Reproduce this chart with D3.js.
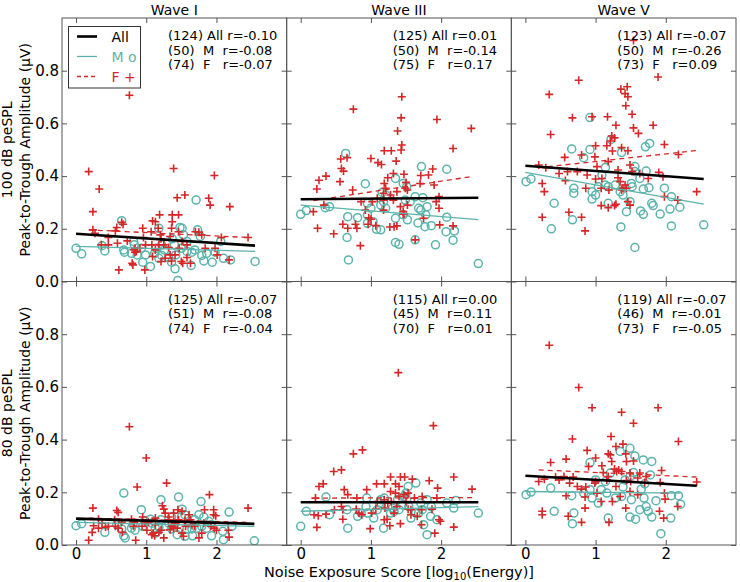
<!DOCTYPE html>
<html><head><meta charset="utf-8">
<script src="https://cdn.jsdelivr.net/npm/d3@7"></script>
<style>body{margin:0;background:#fff} text{font-family:"DejaVu Sans",sans-serif;}</style>
</head><body><svg id="c" width="740" height="582"></svg>
<script>
// ---- data ----
const waves = ["Wave I", "Wave III", "Wave V"];
const levels = ["100 dB peSPL", "80 dB peSPL"];
const xTicks = [0, 1, 2];
const yTicks = [0, 0.2, 0.4, 0.6, 0.8];

// Panel 1: Wave I, 100 dB
const m1 = [[0,0.126],[0.08,0.105],[0.37,0.136],[0.41,0.116],[0.65,0.231],[0.68,0.12],[0.69,0.111],[0.82,0.152],[0.83,0.139],[0.93,0.126],[0.95,0.073],[1.06,0.057],[1.12,0.107],[1.14,0.126],[1.18,0.202],[1.22,0.139],[1.26,0.12],[1.32,0.091],[1.36,0.073],[1.41,0.048],[1.45,0.004],[1.37,0.162],[1.40,0.139],[1.48,0.205],[1.51,0.202],[1.50,0.126],[1.53,0.177],[1.58,0.114],[1.65,0.111],[1.69,0.12],[1.64,0.061],[1.71,0.309],[1.73,0.196],[1.77,0.171],[1.79,0.099],[1.82,0.078],[1.94,0.073],[2.06,0.152],[2.10,0.088],[2.20,0.082],[2.55,0.076],[0.79,0.107],[0.99,0.101],[1.18,0.088],[1.58,0.152],[1.86,0.107],[0.87,0.101],[1.42,0.101],[1.98,0.111],[1.22,0.099]];
const f1 = [[0.76,0.707],[0.18,0.417],[0.33,0.351],[0.24,0.265],[0.24,0.196],[0.27,0.183],[0.36,0.139],[0.46,0.167],[0.58,0.205],[0.56,0.192],[0.65,0.225],[0.67,0.217],[0.59,0.145],[0.73,0.154],[0.84,0.126],[0.86,0.114],[0.83,0.12],[0.80,0.069],[0.81,0.063],[0.61,0.044],[0.98,0.044],[0.95,0.202],[0.96,0.167],[1.09,0.23],[1.13,0.227],[1.19,0.253],[1.20,0.177],[1.08,0.139],[1.21,0.162],[1.13,0.12],[1.09,0.095],[1.21,0.076],[1.27,0.088],[1.39,0.429],[1.44,0.318],[1.55,0.328],[1.37,0.253],[1.46,0.253],[1.37,0.227],[1.36,0.202],[1.34,0.171],[1.46,0.189],[1.51,0.152],[1.47,0.126],[1.41,0.101],[1.36,0.078],[1.50,0.076],[1.52,0.069],[1.63,0.069],[1.58,0.139],[1.70,0.189],[1.75,0.187],[1.79,0.177],[1.89,0.316],[1.91,0.29],[1.97,0.402],[1.98,0.126],[2.01,0.101],[2.07,0.167],[2.19,0.284],[2.18,0.082],[2.45,0.167],[0.84,0.111],[0.91,0.126],[1.07,0.189],[1.17,0.202],[1.25,0.139],[1.32,0.129],[0.99,0.139],[1.84,0.126],[1.34,0.101],[1.18,0.139],[1.58,0.091],[0.46,0.139]];

// Panel 2: Wave III, 100 dB
const m2 = [[0,0.255],[0.08,0.269],[0.35,0.28],[0.41,0.284],[0.64,0.486],[0.92,0.371],[0.67,0.246],[0.81,0.242],[0.95,0.221],[1.03,0.227],[0.95,0.297],[1.08,0.198],[1.14,0.196],[1.16,0.338],[1.21,0.328],[1.14,0.29],[1.18,0.303],[1.21,0.278],[1.35,0.391],[1.46,0.372],[1.51,0.36],[1.35,0.24],[1.46,0.253],[1.52,0.234],[1.49,0.309],[1.56,0.303],[1.63,0.322],[1.68,0.278],[1.71,0.271],[1.74,0.318],[1.80,0.284],[1.78,0.253],[1.67,0.222],[1.77,0.208],[1.86,0.212],[1.72,0.436],[2.08,0.426],[2.08,0.244],[2.07,0.189],[2.19,0.192],[2.17,0.157],[1.92,0.139],[1.35,0.148],[1.40,0.141],[1.63,0.158],[0.66,0.167],[0.68,0.082],[2.53,0.068],[1.00,0.278],[0.95,0.253]];
const f2 = [[1.44,0.701],[0.75,0.654],[1.43,0.621],[1.94,0.615],[2.43,0.581],[1.38,0.571],[1.44,0.518],[1.43,0.499],[1.19,0.496],[1.29,0.496],[2.17,0.505],[1.36,0.457],[0.57,0.465],[0.66,0.47],[0.58,0.429],[0.61,0.419],[1.00,0.467],[1.10,0.451],[1.15,0.444],[1.88,0.427],[1.32,0.41],[1.47,0.407],[1.24,0.394],[1.71,0.402],[1.82,0.404],[0.26,0.384],[0.36,0.40],[0.56,0.379],[0.23,0.351],[0.74,0.347],[1.19,0.372],[1.21,0.354],[1.50,0.376],[1.52,0.347],[1.90,0.366],[1.09,0.316],[1.18,0.335],[1.28,0.328],[1.32,0.309],[0.86,0.303],[1.97,0.322],[0.18,0.265],[0.33,0.29],[0.92,0.271],[1.18,0.271],[1.42,0.284],[1.46,0.265],[1.47,0.255],[1.52,0.29],[1.97,0.278],[1.93,0.303],[0.24,0.202],[0.47,0.181],[0.60,0.217],[0.78,0.217],[0.80,0.202],[1.00,0.236],[0.96,0.217],[1.07,0.212],[1.27,0.207],[1.33,0.208],[1.37,0.211],[1.46,0.256],[1.63,0.158],[0.85,0.136],[1.98,0.215],[2.17,0.211],[0.97,0.242],[1.49,0.354],[1.37,0.341],[1.70,0.372],[1.02,0.303],[0.67,0.202],[1.18,0.309],[1.75,0.24]];

// Panel 3: Wave V, 100 dB
const m3 = [[0.01,0.379],[0.08,0.389],[0.92,0.622],[0.66,0.503],[0.92,0.501],[0.83,0.47],[1.14,0.433],[1.22,0.539],[1.37,0.49],[1.71,0.511],[1.77,0.524],[1.56,0.436],[1.56,0.417],[1.72,0.419],[0.69,0.354],[0.69,0.335],[0.95,0.341],[0.95,0.313],[1.04,0.36],[1.09,0.404],[1.14,0.366],[1.18,0.36],[1.35,0.341],[1.39,0.328],[1.51,0.372],[1.52,0.36],[1.63,0.391],[1.68,0.351],[1.76,0.356],[1.18,0.297],[1.49,0.303],[1.80,0.297],[1.82,0.288],[1.64,0.268],[1.68,0.255],[1.92,0.256],[2.06,0.275],[2.08,0.322],[2.20,0.282],[0.41,0.297],[0.67,0.234],[0.37,0.2],[1.36,0.207],[2.08,0.211],[2.54,0.215],[1.56,0.129],[1.00,0.328],[1.28,0.366],[1.44,0.265],[1.98,0.354]];
const f3 = [[1.54,0.915],[1.89,0.776],[0.76,0.764],[0.34,0.71],[1.36,0.73],[1.45,0.739],[1.42,0.713],[1.46,0.701],[1.43,0.667],[1.52,0.635],[0.67,0.621],[0.95,0.625],[1.17,0.625],[1.29,0.593],[1.54,0.583],[1.61,0.562],[1.82,0.593],[0.36,0.558],[1.23,0.552],[1.27,0.545],[1.21,0.533],[1.00,0.515],[1.16,0.515],[1.37,0.508],[1.46,0.496],[1.98,0.52],[2.18,0.482],[1.24,0.495],[0.56,0.471],[0.80,0.48],[0.99,0.473],[0.19,0.442],[0.29,0.432],[0.48,0.41],[0.60,0.417],[0.74,0.417],[0.88,0.404],[1.00,0.389],[1.09,0.391],[1.32,0.394],[1.35,0.379],[1.39,0.354],[1.42,0.366],[1.49,0.442],[1.52,0.417],[1.90,0.414],[1.96,0.398],[0.24,0.372],[0.27,0.341],[0.57,0.383],[0.86,0.354],[1.08,0.354],[1.19,0.347],[1.37,0.347],[1.44,0.354],[1.46,0.303],[1.08,0.288],[1.18,0.28],[1.27,0.288],[1.29,0.293],[1.49,0.29],[1.98,0.322],[2.17,0.309],[2.44,0.341],[0.24,0.244],[0.62,0.263],[0.80,0.244],[0.85,0.192],[1.32,0.423],[1.63,0.41],[1.18,0.455],[1.02,0.436],[1.75,0.391]];

// Panel 4: Wave I, 80 dB
const m4 = [[0,0.073],[0.08,0.081],[0.41,0.048],[0.68,0.197],[0.93,0.134],[0.65,0.061],[0.68,0.035],[0.70,0.027],[0.81,0.077],[0.95,0.071],[1.06,0.098],[1.13,0.064],[1.21,0.172],[1.32,0.083],[1.36,0.061],[1.46,0.182],[1.51,0.136],[1.44,0.039],[1.55,0.033],[1.60,0.083],[1.65,0.061],[1.69,0.096],[1.75,0.115],[1.78,0.165],[1.79,0.071],[1.82,0.106],[1.86,0.064],[1.93,0.035],[2.09,0.052],[2.10,0.02],[2.18,0.125],[2.22,0.071],[2.54,0.016],[1.08,0.083],[1.18,0.068],[1.41,0.081],[1.50,0.106],[1.66,0.035],[1.72,0.064],[0.79,0.064],[1.21,0.096],[0.98,0.093],[1.36,0.106],[1.55,0.115],[0.84,0.056],[1.13,0.045],[1.93,0.077],[1.58,0.061],[1.27,0.071],[0.58,0.077],[1.89,0.09]];
const f4 = [[0.76,0.449],[1.00,0.33],[0.87,0.22],[1.29,0.235],[1.90,0.191],[0.24,0.14],[0.58,0.131],[0.60,0.124],[0.32,0.098],[0.79,0.098],[0.95,0.106],[1.23,0.149],[1.25,0.136],[1.39,0.121],[1.45,0.134],[1.51,0.128],[1.63,0.096],[1.83,0.134],[1.96,0.115],[1.99,0.111],[2.45,0.14],[0.25,0.073],[0.32,0.064],[0.46,0.071],[0.56,0.071],[0.60,0.064],[0.83,0.086],[0.98,0.083],[1.03,0.086],[1.13,0.077],[1.32,0.096],[1.36,0.071],[1.41,0.083],[1.46,0.096],[1.56,0.071],[1.69,0.071],[1.92,0.071],[1.97,0.064],[0.23,0.048],[0.66,0.048],[1.08,0.039],[1.10,0.045],[1.21,0.056],[1.25,0.027],[1.34,0.058],[1.39,0.064],[1.51,0.045],[1.53,0.033],[1.75,0.027],[2.00,0.056],[2.17,0.056],[2.18,0.03],[0.18,0.018],[0.85,0.018],[1.12,0.035],[1.18,0.048],[1.44,0.064],[1.82,0.083],[1.61,0.115],[1.32,0.106],[0.65,0.086],[0.42,0.068],[0.82,0.071],[0.55,0.096],[0.94,0.071],[1.55,0.093],[1.65,0.077],[1.27,0.121],[1.96,0.134],[1.13,0.102],[1.39,0.09],[0.37,0.083],[1.79,0.045],[1.01,0.056]];

// Panel 5: Wave III, 80 dB
const m5 = [[0,0.071],[0.08,0.128],[0.36,0.182],[0.41,0.115],[0.66,0.134],[0.67,0.064],[0.81,0.109],[0.93,0.146],[0.95,0.121],[0.94,0.178],[1.04,0.102],[1.09,0.134],[1.14,0.172],[1.19,0.178],[1.18,0.064],[1.24,0.146],[1.31,0.14],[1.38,0.172],[1.40,0.134],[1.47,0.184],[1.50,0.197],[1.51,0.172],[1.53,0.222],[1.57,0.102],[1.64,0.235],[1.64,0.121],[1.71,0.159],[1.73,0.134],[1.75,0.077],[1.80,0.039],[1.80,0.172],[1.86,0.146],[1.94,0.096],[2.08,0.159],[2.18,0.14],[2.21,0.169],[2.53,0.121],[1.33,0.128],[1.45,0.153],[1.68,0.121],[1.54,0.146],[1.85,0.109],[0.86,0.121],[1.12,0.159],[1.28,0.121]];
const f5 = [[1.39,0.654],[1.89,0.453],[0.88,0.361],[0.75,0.346],[0.47,0.279],[0.58,0.285],[0.26,0.222],[0.32,0.232],[0.62,0.21],[0.67,0.191],[0.94,0.21],[0.80,0.178],[1.08,0.232],[1.19,0.232],[1.28,0.258],[1.35,0.232],[1.42,0.258],[1.48,0.258],[1.59,0.25],[1.83,0.244],[1.95,0.216],[2.18,0.258],[2.44,0.212],[1.28,0.203],[1.35,0.197],[1.40,0.184],[1.47,0.191],[1.53,0.197],[0.21,0.178],[0.58,0.146],[0.60,0.134],[0.83,0.121],[0.87,0.115],[0.60,0.098],[0.19,0.115],[0.25,0.111],[0.36,0.117],[1.07,0.136],[1.20,0.14],[1.24,0.159],[1.29,0.165],[1.37,0.146],[1.50,0.165],[1.53,0.136],[1.57,0.134],[1.72,0.134],[1.87,0.136],[1.19,0.096],[1.23,0.098],[1.27,0.073],[1.42,0.081],[1.57,0.115],[1.72,0.077],[1.97,0.096],[1.99,0.09],[0.23,0.067],[0.99,0.062],[1.91,0.045],[2.18,0.068],[1.62,0.178],[1.09,0.165],[1.33,0.121],[1.73,0.184],[1.19,0.172],[1.01,0.121],[1.94,0.178],[1.40,0.222],[0.79,0.136],[1.66,0.109],[0.48,0.134]];

// Panel 6: Wave V, 80 dB
const m6 = [[0.01,0.191],[0.08,0.201],[0.36,0.216],[0.41,0.128],[0.66,0.187],[0.69,0.121],[0.67,0.081],[0.92,0.313],[0.92,0.21],[0.95,0.178],[1.04,0.159],[1.08,0.21],[1.14,0.241],[1.18,0.102],[1.21,0.273],[1.35,0.355],[1.39,0.22],[1.37,0.184],[1.49,0.367],[1.51,0.172],[1.49,0.106],[1.54,0.275],[1.56,0.338],[1.57,0.098],[1.65,0.212],[1.68,0.323],[1.70,0.232],[1.69,0.178],[1.72,0.146],[1.75,0.128],[1.78,0.266],[1.80,0.317],[1.80,0.106],[1.86,0.168],[1.93,0.043],[2.07,0.102],[2.08,0.187],[2.18,0.187],[2.21,0.155],[1.49,0.26],[1.16,0.197],[1.28,0.178],[1.42,0.247],[1.00,0.247],[0.83,0.197],[1.63,0.134]];
const f6 = [[0.34,0.758],[0.76,0.598],[0.95,0.521],[1.37,0.504],[1.89,0.521],[1.54,0.462],[2.18,0.393],[0.67,0.402],[1.22,0.412],[1.29,0.374],[1.39,0.383],[0.88,0.359],[1.18,0.346],[1.21,0.342],[1.00,0.33],[1.43,0.346],[1.44,0.317],[0.36,0.313],[0.58,0.326],[1.09,0.301],[1.11,0.275],[1.27,0.288],[1.30,0.279],[1.33,0.285],[1.37,0.279],[1.54,0.319],[1.60,0.254],[1.94,0.283],[0.19,0.241],[0.27,0.25],[0.48,0.247],[0.55,0.26],[0.63,0.235],[0.74,0.222],[0.80,0.212],[0.99,0.235],[1.00,0.241],[1.16,0.247],[1.18,0.26],[1.49,0.273],[1.50,0.241],[1.70,0.237],[1.92,0.237],[2.44,0.239],[0.58,0.187],[0.85,0.182],[0.86,0.22],[1.08,0.165],[1.24,0.165],[1.35,0.184],[1.49,0.203],[1.60,0.191],[1.98,0.197],[1.99,0.174],[0.24,0.128],[0.24,0.115],[0.61,0.109],[0.80,0.086],[0.85,0.14],[1.19,0.086],[1.43,0.14],[1.91,0.128],[1.97,0.102],[2.17,0.146],[1.02,0.197],[1.72,0.26],[0.68,0.258],[1.29,0.222],[1.44,0.245],[0.43,0.258],[1.23,0.317],[1.63,0.273],[0.90,0.298]];

// fitted lines per panel: [x1, y1, x2, y2]
const fitAll = [[0,0.181,2.55,0.136],[0,0.312,2.53,0.318],[0,0.439,2.54,0.389],[0,0.100,2.54,0.080],[0,0.162,2.53,0.162],[0,0.263,2.44,0.225]];
const fitM   = [[0,0.133,2.55,0.114],[0,0.290,2.53,0.235],[0,0.414,2.54,0.294],[0,0.086,2.54,0.071],[0,0.128,2.53,0.146],[0,0.203,2.21,0.197]];
const fitF   = [[0.18,0.196,2.45,0.167],[0.18,0.307,2.43,0.398],[0.19,0.432,2.44,0.497],[0.18,0.102,2.45,0.086],[0.19,0.178,2.44,0.180],[0.19,0.285,2.44,0.258]];

// annotation stats
const nAll = [124,125,123,125,115,119];
const nM   = [50,50,50,51,45,46];
const nF   = [74,75,73,74,70,73];
const rAll = ["-0.10","0.01","-0.07","-0.07","0.00","-0.07"];
const rM   = ["-0.08","-0.14","-0.26","-0.08","0.11","-0.01"];
const rF   = ["-0.07","0.17","0.09","-0.04","0.01","-0.05"];

const mData = [m1,m2,m3,m4,m5,m6];
const fData = [f1,f2,f3,f4,f5,f6];

// ---- drawing ----
const svg = d3.select("#c");
const L = 62, R = 736, T = 18, B = 545;
const pw = (R - L) / 3, ph = (B - T) / 2;
const red = "#d62728", teal = "#5ab4ac", spine = "#555";
const FS = 14, TFS = 15;

for (let i = 0; i < 6; i++) {
  const row = Math.floor(i / 3), col = i % 3;
  const x0 = L + col * pw, y0 = T + row * ph;
  const x = d3.scaleLinear().domain([-0.2, 3.0]).range([x0, x0 + pw]);
  const y = d3.scaleLinear().domain([0, 1.0]).range([y0 + ph, y0]);
  const g = svg.append("g");
  const cid = "clip" + i;
  svg.append("clipPath").attr("id", cid).append("rect")
    .attr("x", x0).attr("y", y0).attr("width", pw).attr("height", ph);
  const pg = g.append("g").attr("clip-path", `url(#${cid})`);

  pg.selectAll("circle.m").data(mData[i]).join("circle")
    .attr("cx", d => x(d[0])).attr("cy", d => y(d[1])).attr("r", 4)
    .attr("fill", "none").attr("stroke", teal).attr("stroke-width", 1.5);
  pg.selectAll("path.f").data(fData[i]).join("path")
    .attr("d", d => `M${x(d[0]) - 4},${y(d[1])}H${x(d[0]) + 4}M${x(d[0])},${y(d[1]) - 4}V${y(d[1]) + 4}`)
    .attr("stroke", red).attr("stroke-width", 1.6).attr("fill", "none");

  const ln = (f, c, w, dash) => pg.append("line")
    .attr("x1", x(f[0])).attr("y1", y(f[1])).attr("x2", x(f[2])).attr("y2", y(f[3]))
    .attr("stroke", c).attr("stroke-width", w).attr("stroke-dasharray", dash || null);
  ln(fitM[i], teal, 1.3);
  ln(fitF[i], red, 1.3, "5,4");
  ln(fitAll[i], "#000", 2.6);

  // axes (ticks inward on all four sides)
  const ax = (gen, tr, lab) => {
    const a = g.append("g").attr("transform", tr).call(gen);
    a.select(".domain").remove();
    a.selectAll("line").attr("stroke", spine);
    a.selectAll("text").attr("font-size", TFS).attr("font-family", "DejaVu Sans").attr("fill", "#000");
    if (!lab) a.selectAll("text").remove();
  };
  ax(d3.axisBottom(x).tickValues(xTicks).tickSizeInner(-5).tickSizeOuter(0).tickPadding(3).tickFormat(d3.format("d")), `translate(0,${y0 + ph})`, row === 1);
  ax(d3.axisTop(x).tickValues(xTicks).tickSizeInner(-5).tickSizeOuter(0), `translate(0,${y0})`, false);
  ax(d3.axisLeft(y).tickValues(yTicks).tickSizeInner(-5).tickSizeOuter(0).tickPadding(3).tickFormat(d3.format(".1f")), `translate(${x0},0)`, col === 0);
  ax(d3.axisRight(y).tickValues(yTicks).tickSizeInner(-5).tickSizeOuter(0), `translate(${x0 + pw},0)`, false);

  g.append("rect").attr("x", x0).attr("y", y0).attr("width", pw).attr("height", ph)
    .attr("fill", "none").attr("stroke", spine).attr("stroke-width", 1);

  // annotation
  const lines = [`(${nAll[i]}) All r=${rAll[i]}`, `(${nM[i]})  M  r=${rM[i]}`, `(${nF[i]})  F   r=${rF[i]}`];
  g.selectAll("text.ann").data(lines).join("text")
    .attr("x", x0 + 106).attr("y", (d, k) => y0 + 22 + k * 14.6)
    .attr("font-size", 13).style("white-space", "pre").text(d => d);

  if (row === 0) {
    svg.append("text").attr("x", x0 + pw / 2).attr("y", 15).attr("text-anchor", "middle")
      .attr("font-size", FS).text(waves[col]);
  }
  if (col === 0) {
    const cy = y0 + ph / 2;
    svg.append("text").attr("transform", `translate(12,${cy}) rotate(-90)`).attr("text-anchor", "middle")
      .attr("font-size", FS).text(levels[row]);
    svg.append("text").attr("transform", `translate(30,${cy}) rotate(-90)`).attr("text-anchor", "middle")
      .attr("font-size", FS).text("Peak-to-Trough Amplitude (\u03bcV)");
  }
}

// legend in first panel
const lg = svg.append("g");
lg.append("rect").attr("x", 68.5).attr("y", 26.5).attr("width", 72).attr("height", 61.5)
  .attr("fill", "#fff").attr("stroke", "#333").attr("stroke-width", 1);
const legItems = [["All", "#000", 2.6, null], ["M o", teal, 1.3, null], ["F +", red, 1.3, "4,3"]];
legItems.forEach((it, k) => {
  const yy = 36.5 + k * 20;
  lg.append("line").attr("x1", 77).attr("x2", 97).attr("y1", yy).attr("y2", yy)
    .attr("stroke", it[1]).attr("stroke-width", it[2]).attr("stroke-dasharray", it[3]);
  lg.append("text").attr("x", 111.5).attr("y", yy + 5).attr("font-size", FS)
    .attr("fill", it[1]).style("white-space", "pre").text(it[0]);
});

// x axis label
const xl = svg.append("text").attr("x", 399).attr("y", 577).attr("text-anchor", "middle").attr("font-size", 14.5);
xl.append("tspan").text("Noise Exposure Score [log");
xl.append("tspan").attr("font-size", 10).attr("dy", 3).text("10");
xl.append("tspan").attr("dy", -3).text("(Energy)]");
</script>
</body></html>
